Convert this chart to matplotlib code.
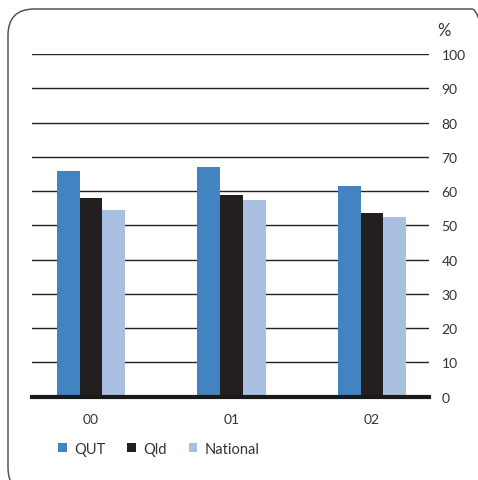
import numpy as np
import matplotlib.pyplot as plt
from matplotlib.patches import FancyBboxPatch

# data
years = ['00', '01', '02']
qut = [66, 67, 61.5]
qld = [58, 59, 53.5]
national = [54.5, 57.5, 52.5]
yticks = [0, 10, 20, 30, 40, 50, 60, 70, 80, 90, 100]

c_qut = '#4383C1'
c_qld = '#231F20'
c_nat = '#A9BFDF'
txt = '#333333'

plt.rcParams['font.family'] = ['Lato', 'DejaVu Sans']

fig = plt.figure(figsize=(4.78, 4.81), dpi=100)

# rounded frame, running off the right and bottom edges
frame = FancyBboxPatch((8 / 478, 1 - 495 / 481), 490 / 478, 485 / 481,
                       boxstyle='round,pad=0,rounding_size=0.055',
                       transform=fig.transFigure, fill=False,
                       edgecolor='#555555', linewidth=1.1, clip_on=False)
fig.patches.append(frame)

ax = fig.add_axes([31.7 / 478, 1 - 397.7 / 481, (429 - 31.7) / 478, (397.7 - 55) / 481])

x = np.arange(len(years))
w = 0.1615
ax.bar(x - w, qut, w, color=c_qut, label='QUT', zorder=3)
ax.bar(x, qld, w, color=c_qld, label='Qld', zorder=3)
ax.bar(x + w, national, w, color=c_nat, label='National', zorder=3)

for t in yticks[1:]:
    ax.axhline(t, color='#222222', linewidth=1.0, zorder=1)
ax.axhline(0, color='#1a1a1a', linewidth=3.0, zorder=4, clip_on=False)

ax.set_xlim(-0.422, 2.406)
ax.set_ylim(0, 100)
for s in ax.spines.values():
    s.set_visible(False)

ax.yaxis.tick_right()
ax.set_yticks(yticks)
ax.set_yticklabels([str(t) for t in yticks])
ax.tick_params(axis='y', length=0, pad=9, labelsize=10, labelcolor=txt)
ax.set_xticks(x)
ax.set_xticklabels(years)
ax.tick_params(axis='x', length=0, pad=12, labelsize=10, labelcolor=txt)
for lab in ax.get_yticklabels():
    lab.set_horizontalalignment('left')

fig.text(437 / 478, 1 - 31 / 481, '%', fontsize=12, color=txt, va='center', ha='left')

leg = fig.legend(loc='center left', bbox_to_anchor=(52 / 478, 1 - 450 / 481),
                 ncol=3, frameon=False, fontsize=10.5, handlelength=0.6,
                 handleheight=0.6, handletextpad=0.5, columnspacing=1.5,
                 labelcolor=txt, borderaxespad=0)

fig.savefig('out.png', dpi=100)
